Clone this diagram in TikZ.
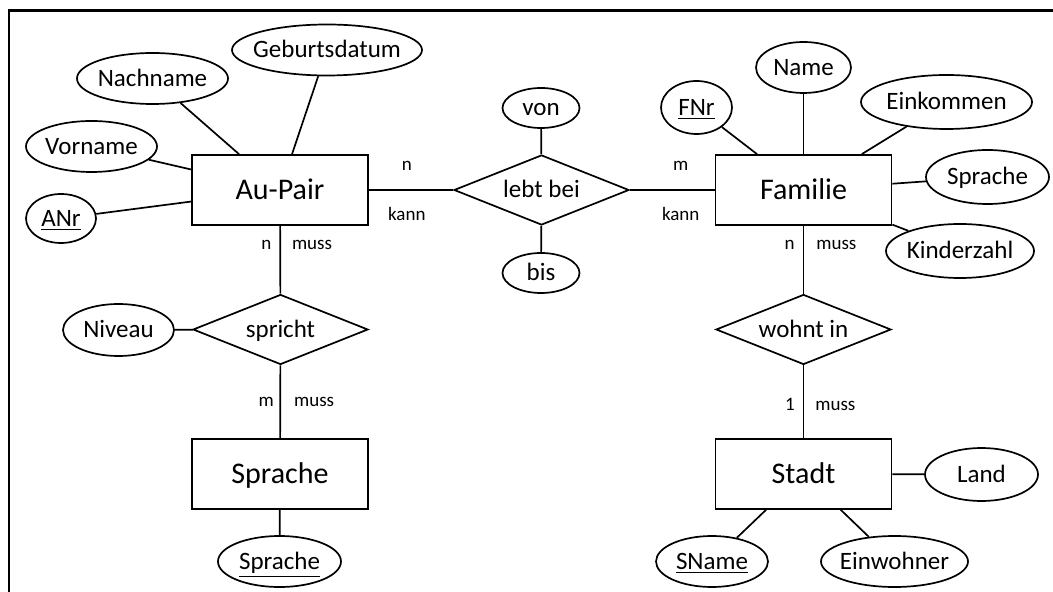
\documentclass[tikz,border=0pt]{standalone}
\usepackage{fontspec}
\setmainfont{Carlito}
\usetikzlibrary{shapes.geometric}

\begin{document}
\begin{tikzpicture}[x=0.5pt,y=-0.5pt,line width=0.85pt,
    entity/.style={draw,rectangle,minimum width=88pt,minimum height=35pt,inner sep=0pt,text height=12pt,text depth=2.4pt,font=\fontsize{15}{18}\selectfont},
    rel/.style={draw,diamond,aspect=2.5,minimum width=87.5pt,minimum height=35pt,inner sep=0pt,text height=10.5pt,text depth=2.5pt,font=\fontsize{12.5}{15}\selectfont},
    attrib/.style={draw,ellipse,inner xsep=-6pt,inner ysep=0pt,text height=10.5pt,text depth=2.5pt,font=\fontsize{12.5}{15}\selectfont},
    card/.style={inner sep=0pt,text height=7pt,text depth=0pt,font=\fontsize{9.5}{11}\selectfont}]
    \useasboundingbox (0,0) rectangle (1053,592);
    % frame (only top and left edge)
    \draw[line width=1.4pt] (9,592) -- (9,10.5) -- (1053,10.5);

    % entities
    \node[entity] (aupair)  at (280,190)   {Au-Pair};
    \node[entity] (familie) at (803.5,190) {Familie};
    \node[entity] (sprache) at (280,474)   {Sprache};
    \node[entity] (stadt)   at (803.5,474) {Stadt};

    % relations
    \node[rel] (lebtbei) at (541.5,190)   {lebt bei};
    \node[rel] (spricht) at (280.5,329.5) {spricht};
    \node[rel] (wohntin) at (803.5,329.5) {wohnt in};

    % attributes of Au-Pair
    \node[attrib,minimum width=95pt,minimum height=25.5pt]   (geburt)   at (327,50)     {Geburtsdatum};
    \node[attrib,minimum width=75.5pt,minimum height=25.5pt] (nachname) at (152.5,78.5) {Nachname};
    \node[attrib,minimum width=65.5pt,minimum height=25.5pt] (vorname)  at (91.5,146.5) {Vorname};
    \node[attrib,minimum width=35pt,minimum height=24.5pt]   (anr)      at (61,218.5)   {\underline{ANr}};
    % attributes of the relations
    \node[attrib,minimum width=55.5pt,minimum height=26pt]   (niveau)   at (118.5,330)  {Niveau};
    \node[attrib,minimum width=38.5pt,minimum height=20pt]   (von)      at (541,108)    {von};
    \node[attrib,minimum width=38.5pt,minimum height=20pt]   (bis)      at (541,273)    {bis};
    % attributes of Sprache
    \node[attrib,minimum width=61.5pt,minimum height=25.5pt] (skey)     at (279.5,561.5) {\underline{Sprache}};
    % attributes of Familie
    \node[attrib,minimum width=35.5pt,minimum height=26.5pt] (fnr)      at (696.5,107.5) {\underline{FNr}};
    \node[attrib,minimum width=47.5pt,minimum height=25.5pt] (name)     at (803.5,67.5)  {Name};
    \node[attrib,minimum width=85.5pt,minimum height=27pt]   (einkommen) at (946.5,102)  {Einkommen};
    \node[attrib,minimum width=61.5pt,minimum height=27pt]   (fsprache) at (987.5,177)   {Sprache};
    \node[attrib,minimum width=74pt,minimum height=27pt]     (kinder)   at (960,251)     {Kinderzahl};
    % attributes of Stadt
    \node[attrib,minimum width=56.5pt,minimum height=26.5pt] (land)     at (981.5,474.5) {Land};
    \node[attrib,minimum width=56pt,minimum height=25.5pt]   (sname)    at (712,561.5)   {\underline{SName}};
    \node[attrib,minimum width=73.5pt,minimum height=25.5pt] (einwohner) at (894.5,561.5) {Einwohner};

    % attribute lines
    \foreach \a in {geburt,nachname,vorname,anr}
        \draw (\a) -- (aupair);
    \foreach \a in {fnr,name,einkommen,fsprache,kinder}
        \draw (\a) -- (familie);
    \foreach \a in {land,sname,einwohner}
        \draw (\a) -- (stadt);
    \draw (niveau) -- (spricht);
    \draw (von) -- (lebtbei);
    \draw (bis) -- (lebtbei);
    \draw (skey) -- (sprache);

    % relationship lines with cardinalities
    \draw (aupair) -- node[card,pos=.45,above=9.25pt] {n} node[card,pos=.45,below=8pt] {kann} (lebtbei);
    \draw (lebtbei) -- node[card,pos=.6,above=9.25pt] {m} node[card,pos=.6,below=8pt] {kann} (familie);
    \draw (aupair) -- node[card,pos=.24,left=4pt] {n} node[card,pos=.24,right=5.5pt] {muss} (spricht);
    \draw (spricht) -- node[card,pos=.47,left=2.75pt] {m} node[card,pos=.47,right=6.5pt] {muss} (sprache);
    \draw (familie) -- node[card,pos=.24,left=4pt] {n} node[card,pos=.24,right=6pt] {muss} (wohntin);
    \draw (wohntin) -- node[card,pos=.53,left=4pt] {1} node[card,pos=.53,right=5.5pt] {muss} (stadt);
\end{tikzpicture}
\end{document}
